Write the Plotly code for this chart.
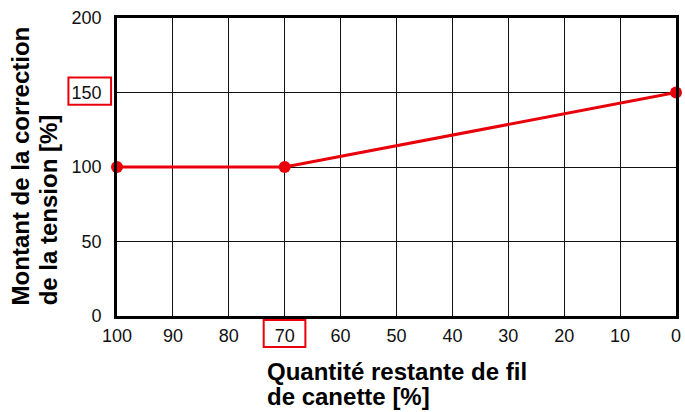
import plotly.graph_objects as go

# Remaining bobbin thread (%) and tension correction amount (%)
remaining = [100, 70, 0]
correction = [100, 100, 150]

x_ticks = [100, 90, 80, 70, 60, 50, 40, 30, 20, 10, 0]
y_ticks = [0, 50, 100, 150, 200]

RED = "#e8000b"
FONT = "Liberation Sans, Arial, sans-serif"

fig = go.Figure()
fig.add_trace(go.Scatter(
    x=remaining, y=correction, mode="lines+markers",
    line=dict(color=RED, width=3),
    marker=dict(color=RED, size=12),
    cliponaxis=False, showlegend=False,
))

axis_common = dict(
    showgrid=True, gridcolor="#111111", gridwidth=1.3,
    showline=True, linecolor="black", linewidth=2.6, mirror=True,
    zeroline=False, ticks="outside", tickcolor="rgba(0,0,0,0)",
    tickfont=dict(family=FONT, size=18, color="#111111"),
)

fig.update_xaxes(range=[100, 0], tickvals=x_ticks, ticklen=2, **axis_common)
fig.update_yaxes(range=[0, 200], tickvals=y_ticks, ticklen=9, **axis_common)

# Highlight boxes around the 150 and 70 tick labels
fig.add_shape(type="rect", xref="paper", yref="y",
              x0=-0.0869, x1=-0.0106, y0=141.8, y1=160.0,
              line=dict(color=RED, width=2), fillcolor="rgba(0,0,0,0)")
fig.add_shape(type="rect", xref="x", yref="paper",
              x0=73.76, x1=66.3, y0=-0.0134, y1=-0.104,
              line=dict(color=RED, width=2), fillcolor="rgba(0,0,0,0)")

title_font = dict(family=FONT, size=24, color="black")

# X-axis title, two left-aligned lines
for text, ypos in [("Quantité restante de fil", -0.1846), ("de canette [%]", -0.2718)]:
    fig.add_annotation(
        text=f"<b>{text}</b>", xref="paper", yref="paper",
        x=0.2642, y=ypos, xanchor="left", yanchor="middle",
        showarrow=False, font=title_font,
    )

# Y-axis title, two lines starting from the same baseline point
for text, xpos in [("Montant de la correction", -0.1720), ("de la tension [%]", -0.1220)]:
    fig.add_annotation(
        text=f"<b>{text}</b>", xref="paper", yref="paper",
        x=xpos, y=0.030, xanchor="center", yanchor="bottom", textangle=-90,
        showarrow=False, font=title_font,
    )

fig.update_layout(
    width=685, height=412,
    margin=dict(l=117, r=4, t=18, b=96),
    paper_bgcolor="white", plot_bgcolor="white",
)

fig.write_html("out.html")
